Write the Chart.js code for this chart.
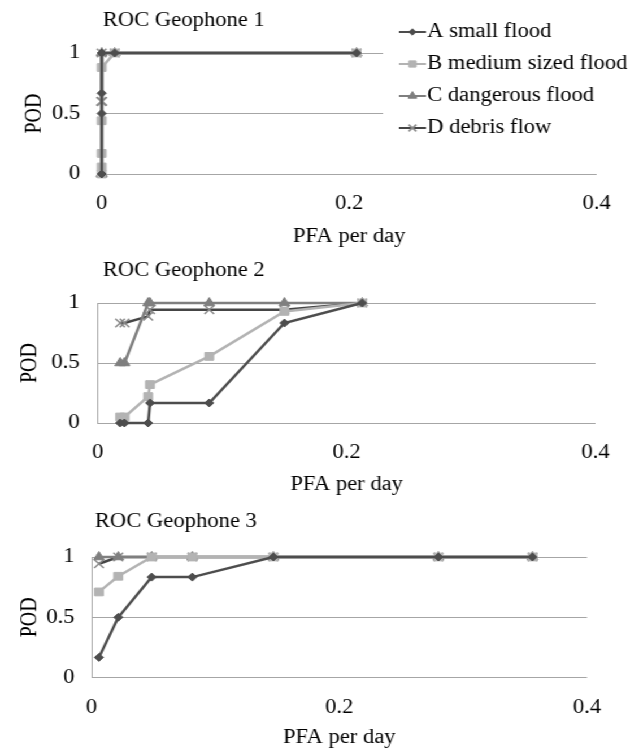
<!DOCTYPE html>
<html>
<head>
<meta charset="utf-8">
<script src="https://cdn.jsdelivr.net/npm/chart.js@4.4.1/dist/chart.umd.min.js"></script>
<style>
  html, body { margin: 0; padding: 0; background: #fff; overflow: hidden; font-family: "Liberation Serif", serif; }
  /* the source figure is stretched horizontally, so the whole page is too */
  #page { position: relative; width: 566px; height: 749px; transform: scaleX(1.13); transform-origin: 0 0; }
  .panel { position: absolute; left: 0; width: 566px; height: 250px; }
</style>
</head>
<body>
<div id="page">
  <div class="panel" style="top:0"><canvas id="g1"></canvas></div>
  <div class="panel" style="top:250px"><canvas id="g2"></canvas></div>
  <div class="panel" style="top:500px"><canvas id="g3"></canvas></div>
</div>
<script>
const seriesNames = ['A small flood', 'B medium sized flood', 'C dangerous flood', 'D debris flow'];
const xTicks = [0, 0.2, 0.4];
const yTicks = [0, 0.5, 1];

// Geophone 1
const pfa1 = [0, 0, 0, 0, 0, 0.0105, 0.206];
const podA1 = [0, 0, 0.5, 0.667, 1, 1, 1];
const podB1 = [0, 0.058, 0.17, 0.44, 0.88, 1, 1];
const podC1 = [0, 0, 0, 0, 1, 1, 1];
const podD1 = [0.6, 0.6, 0.6, 0.6, 1, 1, 1];

// Geophone 2
const pfa2 = [0.018, 0.0215, 0.0405, 0.042, 0.0896, 0.150, 0.2125];
const podA2 = [0, 0, 0, 0.167, 0.167, 0.833, 1];
const podB2 = [0.05, 0.05, 0.22, 0.32, 0.555, 0.93, 1];
const podC2 = [0.5, 0.5, 1, 1, 1, 1, 1];
const podD2 = [0.833, 0.833, 0.889, 0.944, 0.944, 0.944, 1];

// Geophone 3
const pfa3 = [0.006, 0.0216, 0.0486, 0.0814, 0.1468, 0.28, 0.356];
const podA3 = [0.167, 0.5, 0.833, 0.833, 1, 1, 1];
const podB3 = [0.71, 0.84, 1, 1, 1, 1, 1];
const podC3 = [1, 1, 1, 1, 1, 1, 1];
const podD3 = [0.944, 1, 1, 1, 1, 1, 1];

const FONT = '"Liberation Serif", "Times New Roman", "DejaVu Serif", serif';
const font = { family: FONT, size: 20, weight: 'normal' };
const GRID = '#a6a6a6';
Chart.defaults.font.family = FONT;
Chart.defaults.font.size = 20;

const styles = [
  { line: '#4d4d4d', mark: '#4d4d4d', point: 'rectRot', r: 4, bw: 1 },
  { line: '#b3b3b3', mark: '#b3b3b3', point: 'rect', r: 5.5, bw: 1 },
  { line: '#7f7f7f', mark: '#7f7f7f', point: 'triangle', r: 5.5, bw: 1 },
  { line: '#454545', mark: '#8a8a8a', point: 'crossRot', r: 6, bw: 1.5 }
];

// small legend icon: line with the marker in the middle
function makeIcon(s) {
  const c = document.createElement('canvas');
  c.width = 24; c.height = 14;
  const g = c.getContext('2d');
  g.strokeStyle = s.line; g.lineWidth = 2;
  g.beginPath(); g.moveTo(0, 7); g.lineTo(24, 7); g.stroke();
  g.fillStyle = s.mark; g.strokeStyle = s.mark; g.lineWidth = s.bw;
  Chart.helpers.drawPoint(g, { pointStyle: s.point, radius: s.r * 0.8, borderWidth: s.bw, rotation: 0 }, 12, 7);
  return c;
}
const icons = styles.map(makeIcon);

// legend floats over the plot (white box), title can be nudged sideways
const floatLegend = {
  id: 'floatLegend',
  afterInit(chart) {
    const cfg = chart.options.plugins.floatLegend;
    const lg = chart.legend;
    if (!cfg || !cfg.box || !lg) return;
    const fit = lg.fit;
    lg.fit = function () { this.maxHeight = 400; fit.call(this); this.width = 0; };
    const draw = lg.draw;
    lg.draw = function (area) {
      const b = cfg.box, w = cfg.cover, ctx = chart.ctx;
      ctx.save();
      ctx.fillStyle = '#fff';
      ctx.fillRect(w.left, w.top, w.right - w.left, w.bottom - w.top);
      ctx.restore();
      this.left = b.left; this.top = b.top; this.right = b.right; this.bottom = b.bottom;
      this.width = b.right - b.left; this.height = b.bottom - b.top;
      draw.call(this, area);
    };
  },
  afterLayout(chart) {
    const cfg = chart.options.plugins.floatLegend;
    if (cfg && cfg.titleShift && chart.titleBlock) {
      chart.titleBlock.left += cfg.titleShift;
      chart.titleBlock.right += cfg.titleShift;
    }
  }
};

const panels = [
  { id: 'g1', title: 'ROC Geophone 1', pfa: pfa1, pod: [podA1, podB1, podC1, podD1], legend: true, border: false,
    pad: { left: 4, right: 38, top: 0, bottom: 0 }, yWidth: 86, xHeight: 76,
    titlePad: { top: 9, bottom: 20 }, titleShift: 1, yTitlePad: 15, yTickPad: 19, xTickPad: 18, xTitlePad: 1 },
  { id: 'g2', title: 'ROC Geophone 2', pfa: pfa2, pod: [podA2, podB2, podC2, podD2], legend: false, border: true,
    pad: { left: 4, right: 39, top: 0, bottom: 0 }, yWidth: 82.5, xHeight: 77,
    titlePad: { top: 9, bottom: 20 }, titleShift: 4.5, yTitlePad: 11, yTickPad: 16, xTickPad: 18, xTitlePad: 3 },
  { id: 'g3', title: 'ROC Geophone 3', pfa: pfa3, pod: [podA3, podB3, podC3, podD3], legend: false, border: true,
    pad: { left: 4, right: 46.5, top: 0, bottom: 0 }, yWidth: 77, xHeight: 72.5,
    titlePad: { top: 10, bottom: 23 }, titleShift: 3, yTitlePad: 11, yTickPad: 15, xTickPad: 18.5, xTitlePad: 0 }
];

panels.forEach(p => {
  const datasets = seriesNames.map((name, i) => ({
    label: name,
    data: p.pfa.map((x, j) => ({ x, y: p.pod[i][j] })),
    showLine: true,
    borderColor: styles[i].line,
    borderWidth: 2.5,
    backgroundColor: styles[i].mark,
    pointStyle: styles[i].point,
    pointRadius: styles[i].r,
    pointBorderWidth: styles[i].bw,
    pointBorderColor: styles[i].mark,
    pointBackgroundColor: styles[i].mark,
    tension: 0,
    clip: false
  }));

  new Chart(document.getElementById(p.id), {
    type: 'scatter',
    data: { datasets },
    plugins: [floatLegend],
    options: {
      responsive: true,
      maintainAspectRatio: false,
      animation: false,
      events: [],
      layout: { padding: p.pad },
      plugins: {
        tooltip: { enabled: false },
        title: {
          display: true, text: p.title, align: 'start', fullSize: false,
          color: '#000', font, padding: p.titlePad
        },
        legend: {
          display: p.legend,
          position: 'right',
          align: 'start',
          labels: {
            font, color: '#000', padding: 12,
            usePointStyle: true, pointStyleWidth: 6,
            generateLabels(chart) {
              const items = Chart.defaults.plugins.legend.labels.generateLabels(chart);
              items.forEach((it, i) => { it.pointStyle = icons[i]; });
              return items;
            }
          }
        },
        floatLegend: p.legend ? {
          box: { left: 350, top: 10, right: 566, bottom: 175 },
          cover: { left: 339, top: 20, right: 566, bottom: 150 },
          titleShift: p.titleShift
        } : { titleShift: p.titleShift }
      },
      scales: {
        x: {
          type: 'linear', min: 0, max: 0.4,
          afterBuildTicks: s => { s.ticks = xTicks.map(v => ({ value: v })); },
          afterFit: s => { s.height = p.xHeight; },
          grid: { display: false, drawTicks: false },
          border: { display: false },
          ticks: { font, color: '#000', padding: p.xTickPad, maxRotation: 0, callback: v => String(v) },
          title: { display: true, text: 'PFA per day', font, color: '#000', padding: { top: 0, bottom: p.xTitlePad } }
        },
        y: {
          type: 'linear', min: 0, max: 1,
          afterBuildTicks: s => { s.ticks = yTicks.map(v => ({ value: v })); },
          afterFit: s => { s.width = p.yWidth; },
          grid: { color: GRID, lineWidth: 1, drawTicks: false },
          border: { display: p.border, color: GRID, width: 1 },
          ticks: { font, color: '#000', padding: p.yTickPad, callback: v => String(v) },
          title: { display: true, text: 'POD', font, color: '#000', padding: { top: p.yTitlePad, bottom: 0 } }
        }
      }
    }
  });
});
</script>
</body>
</html>
